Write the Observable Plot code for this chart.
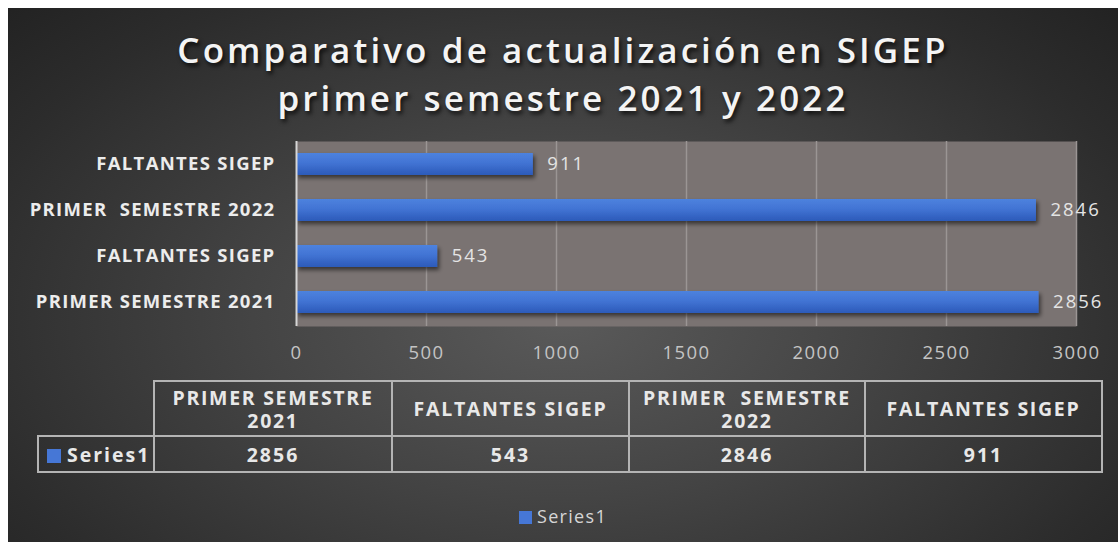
<!DOCTYPE html>
<html><head><meta charset="utf-8">
<script src="https://cdn.jsdelivr.net/npm/d3@7"></script>
<script src="https://cdn.jsdelivr.net/npm/@observablehq/plot@0.6"></script>
<style>
html,body{margin:0;padding:0;background:#fff;}
body{width:1118px;height:542px;overflow:hidden;position:relative;font-family:"Open Sans",sans-serif;}
#chart{position:absolute;left:8px;top:8px;width:1110px;height:534px;
  background:radial-gradient(ellipse 70% 85% at 50% 58%, #5a5a5a 0%, #444 40%, #2c2c2c 80%, #222 100%);}
#title{position:absolute;left:0;top:18px;width:100%;text-align:center;color:#f4f4f4;font-size:35px;font-weight:600;letter-spacing:3.1px;line-height:48px;text-shadow:2px 3px 4px rgba(0,0,0,0.75);}
#plot{position:absolute;left:0;top:122px;}
#tbl{position:absolute;left:29px;top:372px;border-collapse:collapse;color:#e8e8e8;font-weight:700;table-layout:fixed;}
#tbl td{border:2px solid #b4b4b4;text-align:center;padding:0;white-space:pre-wrap;}
#tbl tr.head td{height:53px;font-size:19.5px;letter-spacing:1.7px;line-height:23px;}
#tbl tr.vals td{height:34px;font-size:19.5px;letter-spacing:2px;}
#tbl td.empty{border-top:hidden;border-left:hidden;}
#tbl td.series{text-align:left;padding-left:8px;letter-spacing:1.5px;}
.sw{display:inline-block;width:14px;height:14px;background:#4677d6;vertical-align:-1px;margin-right:6px;}
#legend{position:absolute;left:0;width:100%;top:496px;text-align:center;color:#d6d6d6;font-size:18px;letter-spacing:1.3px;}
#legend .sw{width:13px;height:13px;margin-right:5px;vertical-align:-1px;}
</style></head>
<body><div id="chart"><div id="title"></div><div id="plot"></div><table id="tbl"></table><div id="legend"></div></div>
<script>
const titleLines = ["Comparativo de actualización en SIGEP", "primer semestre 2021 y 2022"];
const categories = ["PRIMER SEMESTRE 2021", "FALTANTES SIGEP", "PRIMER  SEMESTRE 2022", "FALTANTES SIGEP"];
const values = [2856, 543, 2846, 911];
const seriesName = "Series1";
const xTicks = [0, 500, 1000, 1500, 2000, 2500, 3000];

document.getElementById("title").innerHTML = titleLines.map(t => `<div>${t}</div>`).join("");

const data = categories.map((c, i) => ({key: i, label: c, value: values[i]}));

const defs = () => {
  const d = d3.create("svg:defs");
  const g = d.append("linearGradient").attr("id", "barGrad").attr("x1", 0).attr("y1", 0).attr("x2", 0).attr("y2", 1);
  g.append("stop").attr("offset", "0%").attr("stop-color", "#4d82de");
  g.append("stop").attr("offset", "45%").attr("stop-color", "#4274d4");
  g.append("stop").attr("offset", "100%").attr("stop-color", "#2c5ab9");
  const f = d.append("filter").attr("id", "barShadow").attr("x", "-5%").attr("y", "-30%").attr("width", "110%").attr("height", "180%");
  f.append("feDropShadow").attr("dx", 2).attr("dy", 3).attr("stdDeviation", 2).attr("flood-color", "#000").attr("flood-opacity", 0.55);
  return d.node();
};

const chart = Plot.plot({
  width: 1110,
  height: 240,
  marginLeft: 288,
  marginRight: 42,
  marginTop: 11,
  marginBottom: 44,
  style: {background: "transparent", fontFamily: "Open Sans, sans-serif", overflow: "visible"},
  x: {domain: [0, 3000]},
  y: {domain: [3, 2, 1, 0], paddingInner: 0.52, paddingOuter: 0.26},
  marks: [
    defs,
    Plot.frame({fill: "#7a7372", stroke: null}),
    Plot.gridX(xTicks.filter(t => t > 0), {stroke: "#9b9594", strokeOpacity: 1, strokeWidth: 1.5}),
    Plot.barX(data, {x: "value", y: "key", fill: "url(#barGrad)"}),
    Plot.ruleX([0], {stroke: "#d6d6d6", strokeWidth: 2}),
    Plot.text(data, {x: "value", y: "key", text: d => String(d.value), textAnchor: "start", dx: 14, fill: "#e4e4e4", fontSize: 18.5}),
    Plot.axisX({ticks: xTicks, tickSize: 0, tickPadding: 19, fontSize: 18.5, color: "#c4c4c4", label: null, tickFormat: d => String(d)}),
    Plot.axisY({tickSize: 0, tickPadding: 21, fontSize: 18.5, fontWeight: "bold", color: "#ececec", tickFormat: i => categories[i], label: null})
  ]
});
const s = d3.select(chart);
s.selectAll("g[aria-label='bar'] rect").attr("filter", "url(#barShadow)");
s.selectAll("g[aria-label='y-axis tick label'] text").style("white-space", "pre").style("letter-spacing", "1.3px");
s.selectAll("g[aria-label='x-axis tick label'] text").style("letter-spacing", "1.4px");
s.selectAll("g[aria-label='text'] text").style("letter-spacing", "2px");
document.getElementById("plot").appendChild(chart);

// data table
const colW = [116, 238, 237, 236, 237];
const tbl = document.getElementById("tbl");
tbl.innerHTML =
  `<colgroup>${colW.map(w => `<col style="width:${w}px">`).join("")}</colgroup>` +
  `<tr class="head"><td class="empty"></td>${categories.map(c => `<td>${c.replace(/ (\d{4})$/, "\n$1")}</td>`).join("")}</tr>` +
  `<tr class="vals"><td class="series"><span class="sw"></span>${seriesName}</td>${values.map(v => `<td>${v}</td>`).join("")}</tr>`;

document.getElementById("legend").innerHTML = `<span class="sw"></span>${seriesName}`;
</script>
</body></html>
